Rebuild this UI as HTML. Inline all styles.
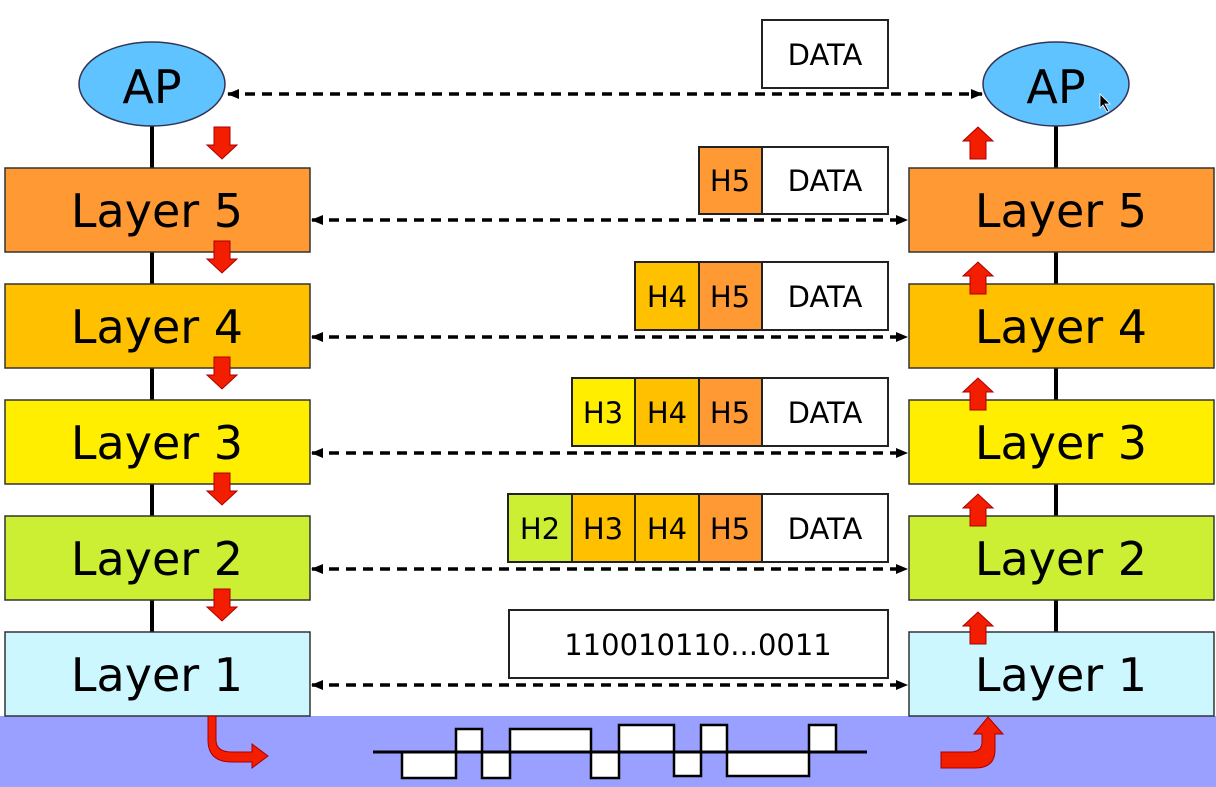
<!DOCTYPE html>
<html><head><meta charset="utf-8"><style>
html,body{margin:0;padding:0;background:#fff;width:1216px;height:787px;overflow:hidden}
text{font-family:"DejaVu Sans","Liberation Sans",sans-serif;fill:#000}
</style></head><body>
<svg width="1216" height="787" viewBox="0 0 1216 787" xmlns="http://www.w3.org/2000/svg">
<defs>
<marker id="ah" markerWidth="12" markerHeight="12" refX="11" refY="6" orient="auto-start-reverse" markerUnits="userSpaceOnUse">
<path d="M0,1 L12,6 L0,11 z" fill="#000"/></marker>
<g id="dn"><path d="M-8,0 H8 V18 H15 L0,32 L-15,18 H-8 Z" fill="#f31d00" stroke="#a00" stroke-width="1"/></g>
<g id="up"><path d="M-8,32 H8 V14 H15 L0,0 L-15,14 H-8 Z" fill="#f31d00" stroke="#a00" stroke-width="1"/></g>
</defs>
<rect x="0" y="716" width="1216" height="71" fill="#99a0ff"/>
<line x1="152" y1="120" x2="152" y2="716" stroke="#000" stroke-width="4"/>
<line x1="1056" y1="120" x2="1056" y2="716" stroke="#000" stroke-width="4"/>
<ellipse cx="152" cy="84" rx="73" ry="42" fill="#5fc3ff" stroke="#335" stroke-width="1.5"/>
<text x="152" y="103" font-size="46" text-anchor="middle">AP</text>
<ellipse cx="1056" cy="84" rx="73" ry="42" fill="#5fc3ff" stroke="#335" stroke-width="1.5"/>
<text x="1056" y="103" font-size="46" text-anchor="middle">AP</text>
<path d="M1100,94 l0,14 l3,-3 l4,7 l2,-1 l-4,-7 l5,0 z" fill="#000" stroke="#fff" stroke-width="0.8"/>
<g stroke="#333" stroke-width="1.5">
<rect x="5" y="168" width="305" height="84" fill="#ff9933"/>
<rect x="5" y="284" width="305" height="84" fill="#ffc000"/>
<rect x="5" y="400" width="305" height="84" fill="#ffee00"/>
<rect x="5" y="516" width="305" height="84" fill="#ccee33"/>
<rect x="5" y="632" width="305" height="84" fill="#ccf7ff"/>
<rect x="909" y="168" width="305" height="84" fill="#ff9933"/>
<rect x="909" y="284" width="305" height="84" fill="#ffc000"/>
<rect x="909" y="400" width="305" height="84" fill="#ffee00"/>
<rect x="909" y="516" width="305" height="84" fill="#ccee33"/>
<rect x="909" y="632" width="305" height="84" fill="#ccf7ff"/>
</g>
<g font-size="46" text-anchor="middle">
<text x="157" y="227">Layer 5</text><text x="157" y="343">Layer 4</text><text x="157" y="459">Layer 3</text><text x="157" y="575">Layer 2</text><text x="157" y="691">Layer 1</text>
<text x="1061" y="227">Layer 5</text><text x="1061" y="343">Layer 4</text><text x="1061" y="459">Layer 3</text><text x="1061" y="575">Layer 2</text><text x="1061" y="691">Layer 1</text>
</g>
<g stroke="#000" stroke-width="3.5" stroke-dasharray="10,7" marker-start="url(#ah)" marker-end="url(#ah)">
<line x1="228" y1="94" x2="982" y2="94"/>
<line x1="312" y1="220" x2="907" y2="220"/>
<line x1="312" y1="337" x2="907" y2="337"/>
<line x1="312" y1="453" x2="907" y2="453"/>
<line x1="312" y1="569" x2="907" y2="569"/>
<line x1="312" y1="685" x2="907" y2="685"/>
</g>
<g stroke="#222" stroke-width="2">
<rect x="762" y="20" width="126" height="68" fill="#fff"/>
<rect x="699" y="147" width="63" height="67" fill="#ff9933"/><rect x="762" y="147" width="126" height="67" fill="#fff"/>
<rect x="635" y="262" width="64" height="68" fill="#ffc000"/><rect x="699" y="262" width="63" height="68" fill="#ff9933"/><rect x="762" y="262" width="126" height="68" fill="#fff"/>
<rect x="572" y="378" width="63" height="68" fill="#ffee00"/><rect x="635" y="378" width="64" height="68" fill="#ffc000"/><rect x="699" y="378" width="63" height="68" fill="#ff9933"/><rect x="762" y="378" width="126" height="68" fill="#fff"/>
<rect x="508" y="494" width="64" height="68" fill="#ccee33"/><rect x="572" y="494" width="63" height="68" fill="#ffc000"/><rect x="635" y="494" width="64" height="68" fill="#ffc000"/><rect x="699" y="494" width="63" height="68" fill="#ff9933"/><rect x="762" y="494" width="126" height="68" fill="#fff"/>
<rect x="509" y="610" width="379" height="68" fill="#fff"/>
</g>
<g font-size="29" text-anchor="middle">
<text x="825" y="65">DATA</text>
<text x="730" y="191">H5</text><text x="825" y="191">DATA</text>
<text x="667" y="307">H4</text><text x="730" y="307">H5</text><text x="825" y="307">DATA</text>
<text x="603" y="423">H3</text><text x="667" y="423">H4</text><text x="730" y="423">H5</text><text x="825" y="423">DATA</text>
<text x="540" y="539">H2</text><text x="603" y="539">H3</text><text x="667" y="539">H4</text><text x="730" y="539">H5</text><text x="825" y="539">DATA</text>
<text x="698" y="655">110010110...0011</text>
</g>
<use href="#dn" x="222" y="127"/><use href="#dn" x="222" y="241"/><use href="#dn" x="222" y="357"/><use href="#dn" x="222" y="473"/><use href="#dn" x="222" y="589"/>
<use href="#up" x="978" y="127"/><use href="#up" x="978" y="262"/><use href="#up" x="978" y="378"/><use href="#up" x="978" y="494"/><use href="#up" x="978" y="612"/>
<path d="M216,716 V740 Q216,752 232,752 H252 V744 L268,756 L252,768 V762 H232 Q208,762 208,740 V716 Z" fill="#f31d00" stroke="#a00"/>
<path d="M988,717 L1003,734 H995 V750 Q995,768 975,768 H941 V752 H970 Q982,752 982,742 V734 H974 Z" fill="#f31d00" stroke="#a00"/>
<g stroke="#000" stroke-width="2.5" fill="#fff">
<rect x="402" y="752" width="54" height="26"/>
<rect x="456" y="729" width="26" height="23"/>
<rect x="482" y="752" width="28" height="26"/>
<rect x="510" y="729" width="81" height="23"/>
<rect x="591" y="752" width="28" height="26"/>
<rect x="619" y="725" width="55" height="27"/>
<rect x="674" y="752" width="27" height="24"/>
<rect x="701" y="725" width="26" height="27"/>
<rect x="727" y="752" width="82" height="24"/>
<rect x="809" y="725" width="27" height="27"/>
</g>
<line x1="373" y1="752" x2="867" y2="752" stroke="#000" stroke-width="3"/>
</svg>
</body></html>
